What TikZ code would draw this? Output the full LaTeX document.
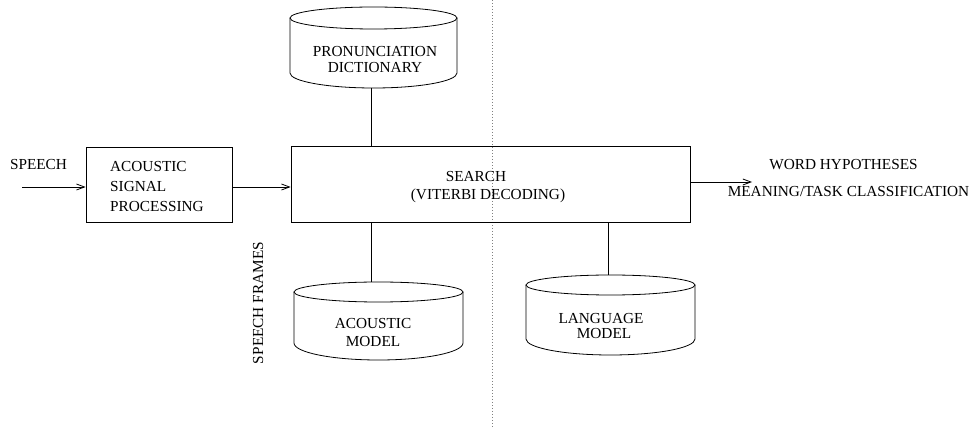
\documentclass[tikz,border=0pt]{standalone}
\usepackage{fontspec}
\setmainfont{Liberation Serif}
\usetikzlibrary{arrows.meta}
\begin{document}
\begin{tikzpicture}[x=1pt,y=-1pt,
  every node/.style={font=\fontsize{15.3}{18}\selectfont, inner sep=0pt},
  one/.style={text height=10pt, text depth=0pt},
  ln/.style={line width=0.8pt},
  arr/.style={ln,-{Straight Barb[length=8pt,width=6pt,line width=0.8pt]}},
  boxn/.style={draw, ln},
  lbl/.style={align=center}]
\useasboundingbox (0,0) rectangle (972,427);
% dotted divider
\coordinate (dtop) at (492,0);
\coordinate (dbot) at (492,427);
\draw[gray, line width=0.8pt, dash pattern=on 1pt off 2pt] (dtop) -- (dbot);
% cylinders
\newcommand\mycyl[6]{%
  \draw[ln] (#1,#2) ellipse [x radius=#3pt, y radius=#4pt];
  \draw[ln] (#1-#3,#2) -- (#1-#3,#5) arc[start angle=180, end angle=360, x radius=#3pt, y radius=#6pt] -- (#1+#3,#2);
}
\mycyl{373.5}{18}{83.5}{11}{73}{15}
\mycyl{378.5}{292}{84.5}{10}{343}{17}
\mycyl{610.5}{285}{84.5}{10}{339}{16}
\node[lbl, font=\fontsize{15.3}{16}\selectfont] (pron) at (375,60) {PRONUNCIATION\\DICTIONARY};
\node[lbl] (am) at (373,333) {ACOUSTIC\\MODEL};
\node[lbl, font=\fontsize{15.3}{15.5}\selectfont] (lm) at (601,326) {LANGUAGE\\\hspace*{6pt}MODEL};
% boxes
\node[boxn, minimum width=146pt, minimum height=75pt] (asp) at (159,184.5) {};
\node[align=left, anchor=west, font=\fontsize{15.3}{20}\selectfont] (asptext) at (110,187) {ACOUSTIC\\SIGNAL\\PROCESSING};
\node[boxn, minimum width=399pt, minimum height=76pt] (search) at (490.5,184) {};
\node[one] (s1) at (476,177) {SEARCH};
\node[one] (s2) at (488,195) {(VITERBI DECODING)};
% labels
\node[one] (speech) at (38.5,165) {SPEECH};
\node[rotate=90, one] (frames) at (258,303) {SPEECH FRAMES};
\node[one] (wh) at (843.5,165) {WORD HYPOTHESES};
\node[one] (mt) at (848.5,192) {MEANING/TASK CLASSIFICATION};
% connectors
\coordinate (sin) at (22,187);
\draw[arr] (sin) -- (asp.west |- sin);
\draw[arr] (asp.east |- sin) -- (search.west |- sin);
\coordinate (outend) at (752,182);
\draw[arr] (search.east |- outend) -- (outend);
\coordinate (pdb) at (371,88);
\draw[ln] (pdb) -- (pdb |- search.north);
\coordinate (amt) at (371,282);
\draw[ln] (search.south -| amt) -- (amt);
\coordinate (lmt) at (608,275);
\draw[ln] (search.south -| lmt) -- (lmt);
\end{tikzpicture}
\end{document}
